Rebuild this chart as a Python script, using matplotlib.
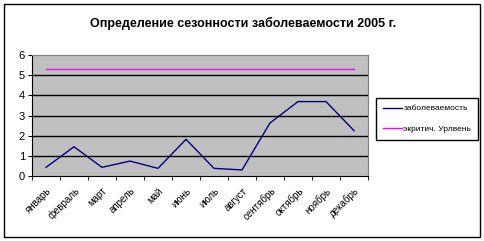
import numpy as np
import matplotlib.pyplot as plt
from matplotlib.patches import Rectangle

months = ["январь", "февраль", "март", "апрель", "май", "июнь",
          "июль", "август", "сентябрь", "октябрь", "ноябрь", "декабрь"]
zabol = [0.43, 1.45, 0.43, 0.74, 0.38, 1.82, 0.38, 0.30, 2.63, 3.69, 3.69, 2.25]
krit = [5.29] * 12

plt.rcParams['font.family'] = ['Liberation Sans Narrow', 'Liberation Sans', 'DejaVu Sans']

fig = plt.figure(figsize=(4.85, 2.41), dpi=100)
fig.patches.append(Rectangle((4 / 485, 4 / 241), 476 / 485, 233 / 241,
                             transform=fig.transFigure, fill=False,
                             edgecolor="black", lw=1))

ax = fig.add_axes([32 / 485, 1 - 176 / 241, 336 / 485, 121 / 241])
ax.set_facecolor("#C0C0C0")
x = np.arange(len(months))
ax.plot(x, zabol, color="#000080", lw=1, label="заболеваемость")
ax.plot(x, krit, color="#FF00FF", lw=1, label="экритич. Урлвень")

ax.set_xlim(-0.5, 11.5)
ax.set_ylim(0, 6)
ax.set_yticks(range(7))
ax.tick_params(axis="y", labelsize=8, length=3, pad=2)
for v in range(1, 6):
    ax.axhline(v, color="black", lw=1)

ax.set_xticks(x)
ax.set_xticklabels(months, rotation=45, ha="right", rotation_mode="anchor", fontsize=7)
ax.tick_params(axis="x", length=0, pad=7)
ax.set_xticks(np.arange(-0.5, 12, 1), minor=True)
ax.tick_params(axis="x", which="minor", length=3)

ax.spines["top"].set_color("#808080")
ax.spines["right"].set_color("#808080")

fig.text(243 / 485, 1 - 23 / 241, "Определение сезонности заболеваемости 2005 г.",
         ha="center", va="center", fontsize=9, fontweight="bold")

leg = ax.legend(loc="upper left", bbox_to_anchor=(376 / 485, 1 - 98 / 241),
                bbox_transform=fig.transFigure, fontsize=6, frameon=True,
                fancybox=False, edgecolor="black", framealpha=1, borderaxespad=0,
                handlelength=2.3, borderpad=0.8, labelspacing=1.5, handletextpad=0.2)
leg.get_frame().set_linewidth(1)

fig.savefig("out.png", dpi=100)
